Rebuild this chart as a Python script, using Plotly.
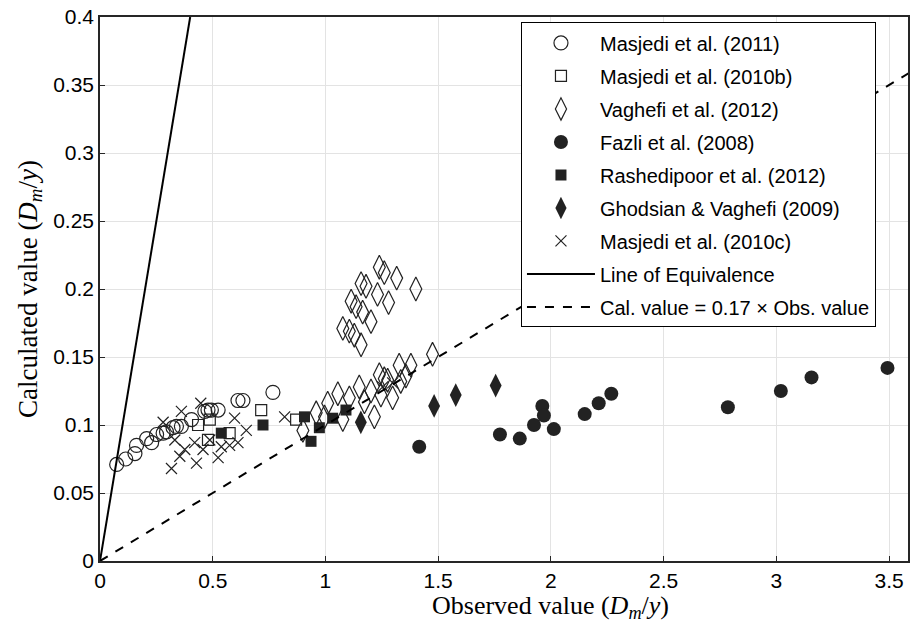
import plotly.graph_objects as go

# ---- data ----
m2011_x = [0.074, 0.114, 0.155, 0.162, 0.207, 0.229, 0.251, 0.28, 0.295, 0.324, 0.339, 0.361, 0.406, 0.465, 0.479, 0.494, 0.524, 0.612, 0.634, 0.767]
m2011_y = [0.071, 0.075, 0.079, 0.085, 0.09, 0.087, 0.093, 0.094, 0.095, 0.098, 0.099, 0.099, 0.104, 0.11, 0.111, 0.111, 0.111, 0.118, 0.118, 0.124]

m2010b_x = [0.435, 0.479, 0.487, 0.575, 0.715, 0.87]
m2010b_y = [0.1, 0.089, 0.104, 0.094, 0.111, 0.104]

vag_x = [1.239, 1.261, 1.316, 1.401, 1.158, 1.18, 1.231, 1.28, 1.114, 1.136, 1.165, 1.202, 1.077, 1.106, 1.128, 1.158,
         1.475, 1.379, 1.327, 1.239, 1.261, 1.276, 1.357, 1.334, 1.15, 1.202, 1.246, 1.298, 1.055, 1.106, 1.01, 1.173,
         1.217, 0.959, 1.077, 0.9, 0.996]
vag_y = [0.216, 0.212, 0.208, 0.2, 0.204, 0.202, 0.196, 0.19, 0.191, 0.187, 0.183, 0.176, 0.171, 0.169, 0.166, 0.159,
         0.152, 0.144, 0.144, 0.137, 0.134, 0.133, 0.136, 0.132, 0.128, 0.125, 0.122, 0.12, 0.123, 0.12, 0.116, 0.117,
         0.106, 0.109, 0.104, 0.096, 0.106]

fazli_x = [1.416, 1.774, 1.862, 1.925, 1.962, 1.969, 2.013, 2.15, 2.212, 2.268, 2.785, 3.02, 3.156, 3.493]
fazli_y = [0.084, 0.093, 0.09, 0.1, 0.114, 0.107, 0.097, 0.108, 0.116, 0.123, 0.113, 0.125, 0.135, 0.142]

rash_x = [0.538, 0.723, 0.907, 0.936, 0.973, 1.032, 1.091]
rash_y = [0.094, 0.1, 0.106, 0.088, 0.098, 0.105, 0.111]

ghod_x = [1.157, 1.482, 1.578, 1.755]
ghod_y = [0.102, 0.114, 0.122, 0.129]

m2010c_x = [0.317, 0.354, 0.332, 0.28, 0.361, 0.447, 0.42, 0.428, 0.457, 0.487, 0.524, 0.538, 0.575, 0.597, 0.612, 0.649, 0.819, 0.376, 1.254, 1.298]
m2010c_y = [0.068, 0.077, 0.089, 0.102, 0.11, 0.116, 0.087, 0.072, 0.082, 0.089, 0.076, 0.084, 0.085, 0.105, 0.087, 0.096, 0.106, 0.082, 0.128, 0.131]

eq_x = [0, 0.4]
eq_y = [0, 0.4]
cal_slope = 0.1
cal_x = [0, 3.6]
cal_y = [v * cal_slope for v in cal_x]

x_ticks = [0, 0.5, 1, 1.5, 2, 2.5, 3, 3.5]
x_ticklabels = ["0", "0.5", "1", "1.5", "2", "2.5", "3", "3.5"]
y_ticks = [0, 0.05, 0.1, 0.15, 0.2, 0.25, 0.3, 0.35, 0.4]
y_ticklabels = ["0", "0.05", "0.1", "0.15", "0.2", "0.25", "0.3", "0.35", "0.4"]

names = ["Masjedi et al. (2011)", "Masjedi et al. (2010b)", "Vaghefi et al. (2012)", "Fazli et al. (2008)",
         "Rashedipoor et al. (2012)", "Ghodsian & Vaghefi (2009)", "Masjedi et al. (2010c)",
         "Line of Equivalence", "Cal. value = 0.17 × Obs. value"]
x_title = "Observed value (<i>D</i><sub><i>m</i></sub>/<i>y</i>)"
y_title = "Calculated value (<i>D</i><sub><i>m</i></sub>/<i>y</i>)"

DK = "#222222"
fig = go.Figure()

def sc(x, y, name, symbol, size, lw=1.2):
    fig.add_trace(go.Scatter(
        x=x, y=y, mode="markers", name=name, legendgroup=name,
        marker=dict(symbol=symbol, size=size, color=DK,
                    line=dict(color=DK, width=lw)),
    ))

sc(m2011_x, m2011_y, names[0], "circle-open", 14)
sc(m2010b_x, m2010b_y, names[1], "square-open", 11)
sc(vag_x, vag_y, names[2], "diamond-tall-open", 17)
sc(fazli_x, fazli_y, names[3], "circle", 14, 0)
sc(rash_x, rash_y, names[4], "square", 11, 0)
sc(ghod_x, ghod_y, names[5], "diamond-tall", 17, 0)
sc(m2010c_x, m2010c_y, names[6], "x-thin-open", 11)

fig.add_trace(go.Scatter(x=eq_x, y=eq_y, mode="lines", name=names[7], legendgroup=names[7],
                         line=dict(color="black", width=2)))
fig.add_trace(go.Scatter(x=cal_x, y=cal_y, mode="lines", name=names[8], legendgroup=names[8],
                         line=dict(color="black", width=2, dash="dash")))

axis_common = dict(showline=True, linecolor="#262626", linewidth=1.5, mirror=True,
                   showgrid=True, gridcolor="#e3e3e3", gridwidth=1,
                   ticks="inside", ticklen=5, tickcolor="#262626",
                   zeroline=False,
                   tickfont=dict(family="Liberation Sans, Arial", size=21, color="black"))

fig.update_layout(
    width=910, height=643,
    margin=dict(l=100, r=0, t=17, b=82),
    plot_bgcolor="white", paper_bgcolor="white",
    xaxis=dict(range=[0, 3.584], tickvals=x_ticks, ticktext=x_ticklabels, **axis_common),
    yaxis=dict(range=[0, 0.4], tickvals=y_ticks, ticktext=y_ticklabels,
               title=dict(text=y_title,
                          font=dict(family="Liberation Serif, Times New Roman", size=27, color="black"),
                          standoff=8),
               **axis_common),
    legend=dict(x=0.521, y=0.99, xanchor="left", yanchor="top",
                bgcolor="white", bordercolor="black", borderwidth=1,
                font=dict(family="Liberation Sans, Arial", size=20, color="black"),
                tracegroupgap=4, itemwidth=68),
    showlegend=True,
    annotations=[dict(text=x_title, xref="paper", yref="paper", x=0.558, y=-0.052,
                      xanchor="center", yanchor="top", showarrow=False,
                      font=dict(family="Liberation Serif, Times New Roman", size=26, color="black"))],
)

fig.write_html("out.html")
